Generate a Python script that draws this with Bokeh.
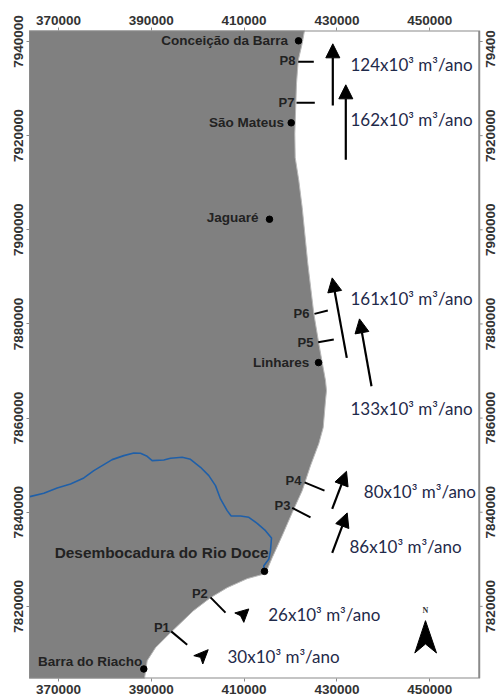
from bokeh.plotting import figure
from bokeh.models import LinearAxis, FixedTicker, BasicTickFormatter, Range1d, Arrow, NormalHead, ColumnDataSource
from bokeh.core.properties import value
from bokeh.embed import file_html
from bokeh.resources import INLINE
import math

X_TICKS = [370000, 390000, 410000, 430000, 450000]
Y_TICKS = [7820000, 7840000, 7860000, 7880000, 7900000, 7920000, 7940000]
MAP_X = (363750, 460668)
MAP_Y = (7804676, 7942340)
VIEW_X_MAX = 464820
RIGHT_TICK_END = 461400
RIGHT_LABEL_X = 463200

coast_x = [423013,422517,421655,421289,420923,421009,421785,422517,423228,423724,425017,426095,427538,427754,427538,427043,426095,424306,422517,420362,418207,416052,414608,410665,406355,402756,399092,394136,390903,389115,388533]
coast_y = [7942340,7939575,7935963,7931075,7920450,7915350,7910463,7904725,7897713,7892825,7882200,7875825,7867963,7865838,7863713,7857975,7854575,7849900,7844588,7839913,7835025,7830350,7826950,7825888,7823975,7821850,7819088,7814413,7811225,7808463,7804676]

river_x = [363823,366839,369713,372586,375459,377614,381565,384079,386234,387670,389107,390184,392698,394135,396649,398445,400600,402395,403832,404909,406346,407208,409219,411015,412811,414606,415899,415684,415325,414247,414247]
river_y = [7843313,7844021,7845155,7846004,7847279,7848838,7851175,7852025,7852592,7852521,7851883,7850963,7851104,7851458,7851671,7851246,7849546,7847775,7845650,7842817,7840338,7839205,7839205,7838922,7837647,7836088,7834530,7831839,7830068,7828651,7827447]

city_x = [421720,420147,415470,426030,414393,388382]
city_y = [7940149,7922724,7902239,7871788,7827439,7806699]
city_names = ["Conceição da Barra","São Mateus","Jaguaré","Linhares","Desembocadura do Rio Doce","Barra do Riacho"]
city_lx = [419457,418595,413100,424026,415255,388037]
city_ly = [7940212,7922894,7902600,7871851,7831413,7808250]
city_sizes = ["13.5px","13.5px","13.5px","13.5px","15.4px","13.5px"]

p_names = ["P8","P7","P6","P5","P4","P3","P2","P1"]
p_lx = [421073,420858,424090,424952,422366,419996,402174,393985]
p_ly = [7935963,7927038,7882264,7876101,7846713,7841400,7822764,7815411]
p_x0 = [421655,421289,425168,425965,423013,420362,402756,394287]
p_x1 = [425017,425233,428034,429327,427323,424306,405988,397735]
p_y0 = [7935686,7926974,7882136,7876101,7846351,7840911,7821914,7814689]
p_y1 = [7935686,7926974,7882838,7876675,7844588,7838914,7818663,7811863]

arrow_x0 = [429112,431913,432129,437451,428982,428982]
arrow_y0 = [7926400,7914861,7872786,7866751,7840699,7831349]
arrow_x1 = [429112,431913,428982,434865,432064,432214]
arrow_y1 = [7939511,7930799,7889786,7881074,7848689,7839849]
short_head_x = [[407993,411010,409932,409221],[399157,402260,401097,400601]]
short_head_y = [[7818599,7819449,7816601,7818025],[7809525,7810800,7807761,7809164]]

flux_text = ["124x10³ m³/ano","162x10³ m³/ano","161x10³ m³/ano","133x10³ m³/ano","80x10³ m³/ano","86x10³ m³/ano","26x10³ m³/ano","30x10³ m³/ano"]
flux_x = [432926,432926,432926,432926,435792,432710,415190,406420]
flux_y = [7935113,7923425,7885388,7862013,7844439,7832751,7818174,7809313]

north_x = [449088,446783,449088,451459]
north_y = [7816963,7810099,7812011,7810099]

GRAY = "#808080"
TICKC = "#8a8a8a"
LAB = "#333333"

p = figure(width=498, height=697, frame_width=469, frame_height=648,
           x_range=Range1d(MAP_X[0], VIEW_X_MAX), y_range=Range1d(*MAP_Y),
           output_backend="svg", toolbar_location=None,
           min_border_left=29, min_border_right=0, min_border_top=30, min_border_bottom=19,
           x_axis_location="below", y_axis_location="left")
p.grid.visible = False
p.outline_line_color = None
p.background_fill_color = "white"
p.border_fill_color = "white"

p.add_layout(LinearAxis(), "above")

for ax in p.xaxis:
    ax.ticker = FixedTicker(ticks=X_TICKS)
    ax.axis_line_color = None
for ax in p.yaxis:
    ax.ticker = FixedTicker(ticks=Y_TICKS)
    ax.major_label_orientation = "parallel"
    ax.axis_line_color = TICKC
for ax in list(p.xaxis) + list(p.yaxis):
    ax.formatter = BasicTickFormatter(use_scientific=False)
    ax.major_label_text_font = "Liberation Sans"
    ax.major_label_text_font_size = "13.5px"
    ax.major_label_text_font_style = "bold"
    ax.major_label_text_color = LAB
    ax.major_tick_line_color = TICKC
    ax.major_tick_out = 3
    ax.major_tick_in = 0
    ax.minor_tick_out = 0
    ax.minor_tick_in = 0
    ax.major_label_standoff = 3

land_x = coast_x + [coast_x[-1], MAP_X[0], MAP_X[0]]
land_y = coast_y + [MAP_Y[0], MAP_Y[0], MAP_Y[1]]
p.patch(land_x, land_y, fill_color=GRAY, line_color="#b8b8b8", line_width=1)

# map frame, right-hand ticks and labels
p.line([MAP_X[0], MAP_X[1], MAP_X[1], MAP_X[0]], [MAP_Y[1], MAP_Y[1], MAP_Y[0], MAP_Y[0]],
       line_color=TICKC, line_width=2)
p.segment([MAP_X[1]] * len(Y_TICKS), Y_TICKS, [RIGHT_TICK_END] * len(Y_TICKS), Y_TICKS, line_color=TICKC, line_width=1)
p.text([RIGHT_LABEL_X] * len(Y_TICKS), Y_TICKS, text=[str(t) for t in Y_TICKS], angle=math.pi / 2,
       text_font=value("Liberation Sans"), text_font_size="13.5px", text_font_style="bold",
       text_color=LAB, text_align="center", text_baseline="middle")

p.line(river_x, river_y, line_color="#1f5fa8", line_width=1.6)
p.scatter(city_x, city_y, size=6.5, marker="circle", fill_color="black", line_color="black")

p.segment(p_x0, p_y0, p_x1, p_y1, line_color="black", line_width=2)

for a, b, c, d in zip(arrow_x0, arrow_y0, arrow_x1, arrow_y1):
    p.add_layout(Arrow(end=NormalHead(size=14, fill_color="black", line_color="black"),
                       x_start=a, y_start=b, x_end=c, y_end=d, line_color="black", line_width=2.2))
p.patches(short_head_x, short_head_y, fill_color="black", line_color="black")

p.patch(north_x, north_y, fill_color="black", line_color="black")
p.text([north_x[0]], [7819088], text=["N"], text_font=value("Liberation Serif"), text_font_size="8px",
       text_align="center", text_baseline="middle", text_color="#333333", text_font_style="bold")

p.text("x", "y", text="t", text_font_size="s", source=ColumnDataSource(dict(x=city_lx, y=city_ly, t=city_names, s=city_sizes)),
       text_font=value("Liberation Sans"), text_font_style="bold", text_color="#222222",
       text_align="right", text_baseline="middle")
p.text(p_lx, p_ly, text=p_names, text_font=value("Liberation Sans"), text_font_style="bold", text_font_size="13px",
       text_color="#222222", text_align="right", text_baseline="middle")
p.text(flux_x, flux_y, text=flux_text, text_font=value("Lato"), text_font_size="17px",
       text_color="#1f2a4a", text_align="left", text_baseline="middle")

open("out.html", "w").write(file_html(p, INLINE))
